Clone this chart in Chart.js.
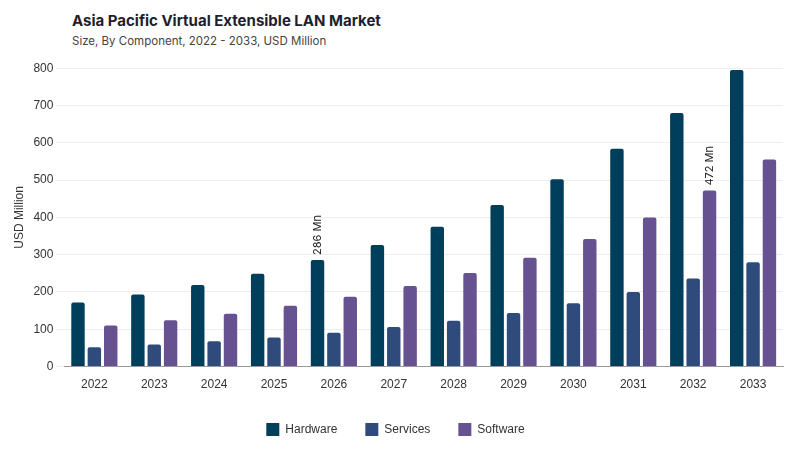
<!DOCTYPE html>
<html>
<head>
<meta charset="utf-8">
<script src="https://cdn.jsdelivr.net/npm/chart.js@4.4.0/dist/chart.umd.min.js"></script>
<style>
  body { margin: 0; background: #fff; font-family: Inter, "Noto Sans", sans-serif; }
  #wrap { width: 800px; height: 450px; position: relative; }
  h1 { position: absolute; left: 72px; top: 11px; margin: 0; font-size: 15px; font-weight: 700; color: #1e1e2e; }
  h2 { position: absolute; left: 72px; top: 34px; margin: 0; font-size: 11.5px; font-weight: 400; color: #444; }
  #box { position: absolute; left: 8px; top: 58px; width: 785px; height: 388px; }
</style>
</head>
<body>
<div id="wrap">
  <h1>Asia Pacific Virtual Extensible LAN Market</h1>
  <h2>Size, By Component, 2022 - 2033, USD Million</h2>
  <div id="box"><canvas id="chart"></canvas></div>
</div>
<script>
// --- Data ---
const years = ["2022", "2023", "2024", "2025", "2026", "2027", "2028", "2029", "2030", "2031", "2032", "2033"];
const hardware = [172, 193, 219, 249, 286, 326, 375, 433, 502, 584, 680, 795];
const services = [52, 59, 68, 78, 91, 106, 123, 144, 170, 200, 236, 280];
const software = [110, 124, 142, 163, 187, 216, 251, 292, 342, 400, 472, 555];
const yTicks = [0, 100, 200, 300, 400, 500, 600, 700, 800];

// annotations: [datasetIndex, pointIndex, label]
const notes = [[0, 4, "286 Mn"], [2, 10, "472 Mn"]];

const notePlugin = {
    id: 'notes',
    afterDatasetsDraw(chart) {
        const ctx = chart.ctx;
        notes.forEach(([ds, i, txt]) => {
            const bar = chart.getDatasetMeta(ds).data[i];
            ctx.save();
            ctx.translate(bar.x, bar.y - 5);
            ctx.rotate(-Math.PI / 2);
            ctx.font = '11px Inter, sans-serif';
            ctx.fillStyle = '#222';
            ctx.textAlign = 'left';
            ctx.textBaseline = 'middle';
            ctx.fillText(txt, 0, 0);
            ctx.restore();
        });
    }
};

new Chart(document.getElementById('chart'), {
    type: 'bar',
    data: {
        labels: years,
        datasets: [
            { label: 'Hardware', data: hardware, backgroundColor: '#003f5c' },
            { label: 'Services', data: services, backgroundColor: '#2f4b7c' },
            { label: 'Software', data: software, backgroundColor: '#665191' }
        ]
    },
    options: {
        responsive: true,
        maintainAspectRatio: false,
        animation: false,
        datasets: { bar: { categoryPercentage: 0.82, barPercentage: 0.82, borderRadius: 2 } },
        scales: {
            y: {
                min: 0, max: 800,
                afterBuildTicks: axis => { axis.ticks = yTicks.map(v => ({ value: v })); },
                grid: { color: '#eeeeee' },
                border: { display: false },
                ticks: { color: '#333', font: { size: 12 } },
                title: { display: true, text: 'USD Million', color: '#333', font: { size: 12 } }
            },
            x: {
                grid: { display: false },
                border: { color: '#999' },
                ticks: { color: '#333', font: { size: 12 } }
            }
        },
        plugins: {
            legend: {
                position: 'bottom',
                labels: { boxWidth: 13, boxHeight: 13, padding: 28, color: '#333', font: { size: 12 } }
            },
            tooltip: { enabled: false }
        },
        layout: { padding: { top: 6, right: 10 } }
    },
    plugins: [notePlugin]
});
</script>
</body>
</html>
